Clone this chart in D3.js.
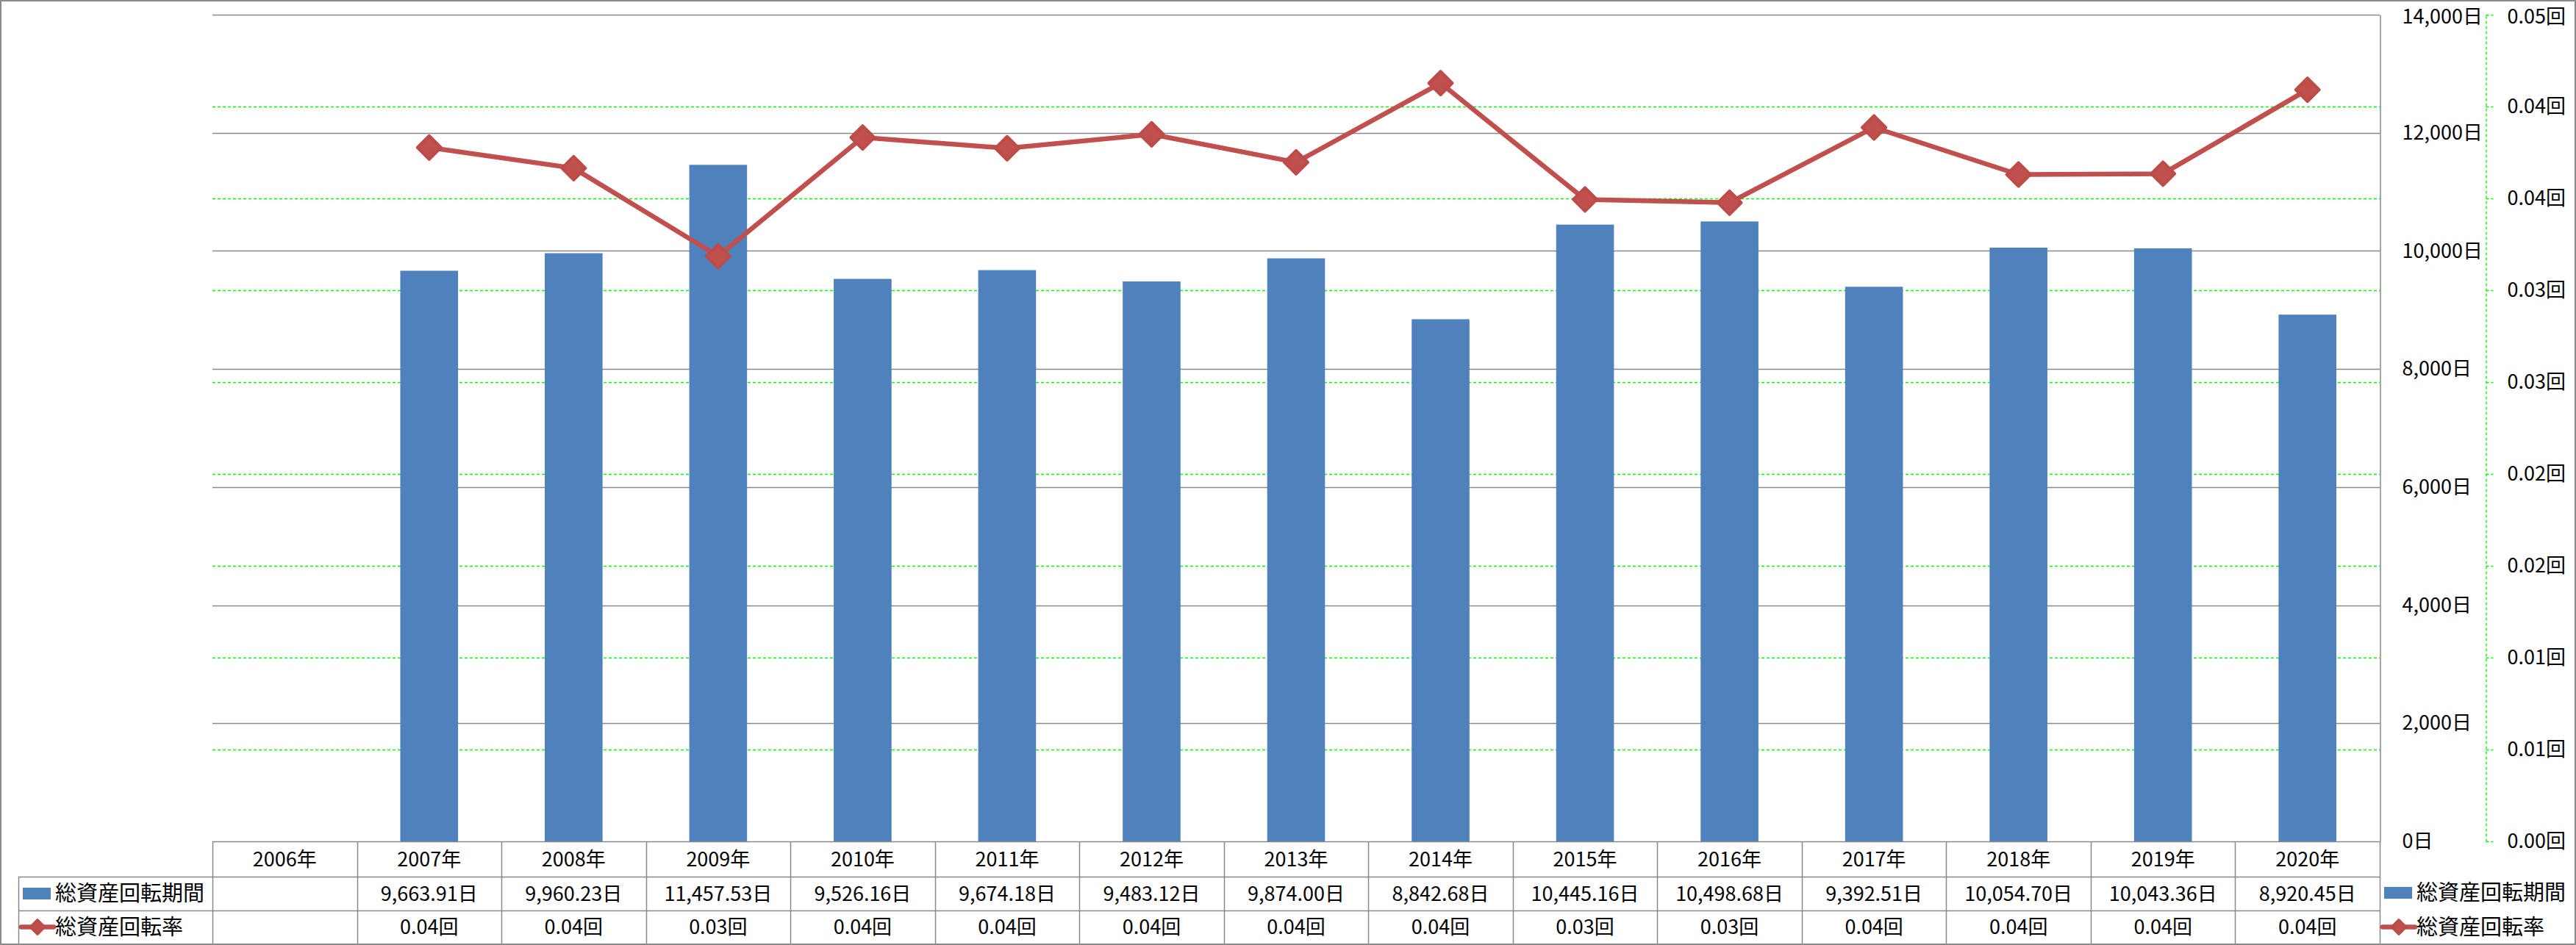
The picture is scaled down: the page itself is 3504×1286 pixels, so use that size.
<!DOCTYPE html>
<html>
<head>
<meta charset="utf-8">
<script src="https://cdn.jsdelivr.net/npm/d3@7/dist/d3.min.js"></script>
<style>
  html, body { margin: 0; padding: 0; background: #fff; }
  svg { display: block; }
  text { font-family: "Noto Sans CJK JP", "Noto Sans", sans-serif; fill: #000; }
</style>
</head>
<body>
<svg id="chart" width="3504" height="1286"></svg>
<script>
// ---------- data ----------
const categories = ['2006年','2007年','2008年','2009年','2010年','2011年','2012年','2013年','2014年','2015年','2016年','2017年','2018年','2019年','2020年'];
const periodValues = [null, 9663.91, 9960.23, 11457.53, 9526.16, 9674.18, 9483.12, 9874.00, 8842.68, 10445.16, 10498.68, 9392.51, 10054.70, 10043.36, 8920.45];
const rateValues = [null, 0.037769, 0.036646, 0.031857, 0.038316, 0.037729, 0.038489, 0.036966, 0.041277, 0.034944, 0.034767, 0.038861, 0.036301, 0.036343, 0.040917];
const rateLabels = ['', '0.04回','0.04回','0.03回','0.04回','0.04回','0.04回','0.04回','0.04回','0.03回','0.03回','0.04回','0.04回','0.04回','0.04回'];
const primaryTicks = [0, 2000, 4000, 6000, 8000, 10000, 12000, 14000];
const primaryTickLabels = ['0日','2,000日','4,000日','6,000日','8,000日','10,000日','12,000日','14,000日'];
const secondaryTicks = [0, 0.005, 0.01, 0.015, 0.02, 0.025, 0.03, 0.035, 0.04, 0.045];
const secondaryTickLabels = ['0.00回','0.01回','0.01回','0.02回','0.02回','0.03回','0.03回','0.04回','0.04回','0.05回'];
const seriesNames = ['総資産回転期間', '総資産回転率'];

// ---------- layout ----------
const W = 3504, H = 1286;
const plotL = 289, plotR = 3237, plotT = 20, plotB = 1145;
const row1B = 1193, row2B = 1239, tableB = 1284;
const tableL = 25;
const blue = '#4F81BD', red = '#C0504D', gray = '#898989', green = '#00FF00';
const fs = 27;

const svg = d3.select('#chart');

// outer border
svg.append('rect').attr('x', 1).attr('y', 1).attr('width', W - 2).attr('height', H - 2)
  .attr('fill', '#fff').attr('stroke', gray).attr('stroke-width', 2);

const x = d3.scaleBand().domain(categories).range([plotL, plotR]).padding(0);
const y = d3.scaleLinear().domain([0, 14000]).range([plotB, plotT]);
const y2 = d3.scaleLinear().domain([0, 0.045]).range([plotB, plotT]);

// green dashed gridlines (secondary)
svg.append('g').selectAll('line')
  .data(secondaryTicks.filter(t => t > 0 && t < 0.045))
  .join('line')
  .attr('x1', plotL).attr('x2', plotR)
  .attr('y1', d => Math.round(y2(d)) + 0.5).attr('y2', d => Math.round(y2(d)) + 0.5)
  .attr('stroke', green).attr('stroke-width', 1.3).attr('stroke-dasharray', '4,3');

// gray gridlines (primary)
svg.append('g').selectAll('line')
  .data(primaryTicks.filter(t => t > 0))
  .join('line')
  .attr('x1', plotL).attr('x2', plotR)
  .attr('y1', d => Math.round(y(d)) + 0.5).attr('y2', d => Math.round(y(d)) + 0.5)
  .attr('stroke', gray).attr('stroke-width', 1.5);

// bars
const bw = x.bandwidth();
svg.append('g').selectAll('rect')
  .data(categories.map((c, i) => ({c, v: periodValues[i]})).filter(d => d.v != null))
  .join('rect')
  .attr('x', d => x(d.c) + bw * 0.3)
  .attr('width', bw * 0.4)
  .attr('y', d => y(d.v))
  .attr('height', d => y(0) - y(d.v))
  .attr('fill', blue);

// primary axis (right side of plot)
const axis1 = d3.axisRight(y).tickValues(primaryTicks)
  .tickFormat((d, i) => primaryTickLabels[i]).tickSize(0).tickPadding(30);
const gA1 = svg.append('g').attr('transform', `translate(${plotR + 0.5},0)`).call(axis1);
gA1.select('.domain').attr('stroke', gray).attr('stroke-width', 1.5);
gA1.selectAll('text').attr('font-size', fs).attr('font-family', '"Noto Sans CJK JP"').attr('fill', '#000');
gA1.selectAll('.tick').filter(d => d === 14000).select('text').attr('dy', '0.44em');

// secondary axis
const axis2 = d3.axisRight(y2).tickValues(secondaryTicks)
  .tickFormat((d, i) => secondaryTickLabels[i]).tickSize(10).tickSizeOuter(0).tickPadding(19);
const gA2 = svg.append('g').attr('transform', `translate(3381.5,0)`).call(axis2);
gA2.select('.domain').attr('stroke', green).attr('stroke-width', 1.3).attr('stroke-dasharray', '4,3');
gA2.selectAll('.tick line').attr('stroke', green).attr('stroke-width', 1.3).attr('stroke-dasharray', '4,3');
gA2.selectAll('text').attr('font-size', fs).attr('font-family', '"Noto Sans CJK JP"').attr('fill', '#000');
gA2.selectAll('.tick').filter(d => d === 0.045).select('text').attr('dy', '0.44em');

// line series
const lineData = categories.map((c, i) => ({c, v: rateValues[i]})).filter(d => d.v != null);
const line = d3.line().x(d => x(d.c) + bw / 2).y(d => y2(d.v));
svg.append('path').datum(lineData).attr('d', line)
  .attr('fill', 'none').attr('stroke', red).attr('stroke-width', 6.5).attr('stroke-linejoin', 'round');

const diamond = (cx, cy, r) => `M${cx},${cy - r}L${cx + r},${cy}L${cx},${cy + r}L${cx - r},${cy}Z`;
svg.append('g').selectAll('path')
  .data(lineData).join('path')
  .attr('d', d => diamond(x(d.c) + bw / 2, y2(d.v), 16))
  .attr('fill', red).attr('stroke', '#BD4B48').attr('stroke-width', 4).attr('stroke-linejoin', 'round');

// ---------- data table ----------
const tbl = svg.append('g');
tbl.append('line').attr('x1', plotL).attr('x2', plotR).attr('y1', plotB + 0.5).attr('y2', plotB + 0.5)
  .attr('stroke', gray).attr('stroke-width', 1.5);
[row1B, row2B].forEach(yy => {
  tbl.append('line').attr('x1', tableL).attr('x2', plotR).attr('y1', yy + 0.5).attr('y2', yy + 0.5)
    .attr('stroke', gray).attr('stroke-width', 1.5);
});
const colEdges = categories.map(c => x(c)).concat([plotR]);
tbl.selectAll('line.v').data(colEdges).join('line').attr('class', 'v')
  .attr('x1', d => Math.round(d) + 0.5).attr('x2', d => Math.round(d) + 0.5)
  .attr('y1', plotB).attr('y2', tableB)
  .attr('stroke', gray).attr('stroke-width', 1.5);
tbl.append('line').attr('x1', tableL + 0.5).attr('x2', tableL + 0.5).attr('y1', row1B).attr('y2', tableB)
  .attr('stroke', gray).attr('stroke-width', 1.5);

const rowC = [(plotB + row1B) / 2, (row1B + row2B) / 2, (row2B + tableB) / 2];
tbl.selectAll('text.cat').data(categories).join('text').attr('class', 'cat')
  .attr('x', d => x(d) + bw / 2).attr('y', rowC[0]).attr('dy', '0.36em')
  .attr('text-anchor', 'middle').attr('font-size', fs).text(d => d);
const fmtP = d3.format(',.2f');
tbl.selectAll('text.p').data(categories.map((c, i) => ({c, v: periodValues[i]})).filter(d => d.v != null))
  .join('text').attr('class', 'p')
  .attr('x', d => x(d.c) + bw / 2).attr('y', rowC[1]).attr('dy', '0.36em')
  .attr('text-anchor', 'middle').attr('font-size', fs).text(d => fmtP(d.v) + '日');
tbl.selectAll('text.r').data(categories.map((c, i) => ({c, l: rateLabels[i]})).filter(d => d.l))
  .join('text').attr('class', 'r')
  .attr('x', d => x(d.c) + bw / 2).attr('y', rowC[2]).attr('dy', '0.36em')
  .attr('text-anchor', 'middle').attr('font-size', fs).text(d => d.l);

// legend keys
function legendKeys(g, x0, cy1, cy2, textX) {
  g.append('rect').attr('x', x0).attr('y', cy1 - 8).attr('width', 38).attr('height', 16).attr('fill', blue);
  g.append('text').attr('x', textX).attr('y', cy1).attr('dy', '0.36em').attr('font-size', 29).text(seriesNames[0]);
  g.append('line').attr('x1', x0 - 2).attr('x2', x0 + 42).attr('y1', cy2).attr('y2', cy2)
    .attr('stroke', red).attr('stroke-width', 6.5).attr('stroke-linecap', 'round');
  g.append('path').attr('d', diamond(x0 + 20, cy2, 10)).attr('fill', red)
    .attr('stroke', '#BD4B48').attr('stroke-width', 3).attr('stroke-linejoin', 'round');
  g.append('text').attr('x', textX).attr('y', cy2).attr('dy', '0.36em').attr('font-size', 29).text(seriesNames[1]);
}
legendKeys(svg.append('g'), 31, rowC[1], rowC[2], 75);
legendKeys(svg.append('g'), 3243, rowC[1] - 1, rowC[2], 3287);
</script>
</body>
</html>
